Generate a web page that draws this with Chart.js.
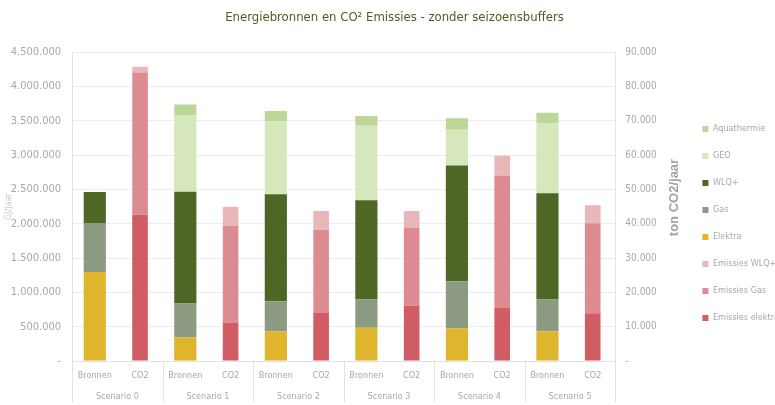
<!DOCTYPE html>
<html>
<head>
<meta charset="utf-8">
<script src="https://cdn.jsdelivr.net/npm/chart.js@4"></script>
<style>
  body { margin: 0; background: #fff; }
  #wrap { width: 775px; height: 405px; }
</style>
</head>
<body>
<div id="wrap"><canvas id="energyChart"></canvas></div>
<script>
const scenarios = ['Scenario 0', 'Scenario 1', 'Scenario 2', 'Scenario 3', 'Scenario 4', 'Scenario 5'];
const barLabels = ['Bronnen', 'CO2'];

// GJ/jaar per scenario
const elektra = [1295000, 341000, 428000, 486000, 477000, 428000];
const gas = [714000, 497000, 443000, 410000, 683000, 468000];
const wlq = [452000, 1628000, 1557000, 1445000, 1687000, 1546000];
const geo = [0, 1108000, 1059000, 1084000, 520000, 1021000];
const aqua = [0, 163000, 155000, 144000, 168000, 154000];

// ton CO2/jaar per scenario
const emElektra = [42600, 11200, 14000, 16100, 15600, 13900];
const emGas = [41400, 28200, 24200, 22800, 38400, 26200];
const emWlq = [1700, 5500, 5500, 4800, 5800, 5300];

const leftTicks = { max: 4500000, step: 500000 };
const rightTicks = { max: 90000, step: 10000 };

const FONT = "'DejaVu Sans Condensed', 'DejaVu Sans', sans-serif";
const GREY = '#a8a8a8';

function fmt(v) {
    if (v === 0) return '-';
    return String(v).replace(/\B(?=(\d{3})+(?!\d))/g, '.');
}

// spread scenario values over the Bronnen / CO2 slots
function slot(values, pos) {
    const out = [];
    values.forEach(v => {
        out.push(pos === 0 ? v : null);
        out.push(pos === 1 ? v : null);
    });
    return out;
}

const labels = [];
scenarios.forEach(() => labels.push(...barLabels));

function bron(label, values, color) {
    return { label, data: slot(values, 0), backgroundColor: color, yAxisID: 'y', barPercentage: 0.49 };
}
function co2(label, values, color) {
    return { label, data: slot(values, 1), backgroundColor: color, yAxisID: 'y1', barPercentage: 0.345 };
}

// right axis title, reading bottom-to-top
const rightTitle = {
    id: 'rightTitle',
    afterDraw(chart) {
        const s = chart.scales.y1;
        const ctx = chart.ctx;
        ctx.save();
        ctx.translate(s.right - 9.8, (s.top + s.bottom) / 2 - 9);
        ctx.rotate(-Math.PI / 2);
        ctx.font = "bold 13px 'Liberation Sans', Arial, sans-serif";
        ctx.fillStyle = '#a2a2a2';
        ctx.textAlign = 'center';
        ctx.textBaseline = 'middle';
        ctx.fillText('ton CO2/jaar', 0, 0);
        ctx.restore();
    }
};

// vertical separators between the scenario groups under the axis
const scenarioLines = {
    id: 'scenarioLines',
    afterDraw(chart) {
        const s = chart.scales.x2;
        const ctx = chart.ctx;
        const step = (s.right - s.left) / scenarios.length;
        ctx.save();
        ctx.strokeStyle = '#e2e2e2';
        ctx.lineWidth = 1;
        for (let i = 0; i <= scenarios.length; i++) {
            const x = Math.round(s.left + i * step) + 0.5;
            ctx.beginPath();
            ctx.moveTo(x, chart.chartArea.bottom);
            ctx.lineTo(x, s.bottom);
            ctx.stroke();
        }
        ctx.restore();
    }
};

new Chart(document.getElementById('energyChart'), {
    type: 'bar',
    data: {
        labels: labels,
        datasets: [
            co2('Emissies elektra', emElektra, '#cf5d63'),
            co2('Emissies Gas', emGas, '#dc8b90'),
            co2('Emissies WLQ+', emWlq, '#e9b6b9'),
            bron('Elektra', elektra, '#deb52c'),
            bron('Gas', gas, '#8c9a81'),
            bron('WLQ+', wlq, '#4f6725'),
            bron('GEO', geo, '#d6e7bb'),
            bron('Aquathermie', aqua, '#bdd798')
        ]
    },
    options: {
        responsive: true,
        maintainAspectRatio: false,
        animation: false,
        categoryPercentage: 1,
        layout: { padding: { left: 0, right: -14, top: 0, bottom: 3.2 } },
        plugins: {
            title: {
                display: true,
                text: 'Energiebronnen en CO² Emissies - zonder seizoensbuffers',
                color: '#4a5f22',
                font: { family: FONT, size: 13, weight: 'normal' },
                padding: { top: 10.2, bottom: 26.2 }
            },
            legend: {
                position: 'right',
                reverse: true,
                title: { display: true, text: ' ', font: { size: 1 }, padding: 22 },
                labels: {
                    boxWidth: 6,
                    boxHeight: 6,
                    padding: 18,
                    color: GREY,
                    font: { family: FONT, size: 9 }
                }
            },
            tooltip: { enabled: false }
        },
        scales: {
            x: {
                stacked: true,
                grid: { display: false, drawTicks: false },
                border: { display: true, color: '#e2e2e2' },
                ticks: {
                    color: GREY,
                    font: { family: FONT, size: 9 },
                    padding: 9.6,
                    maxRotation: 0,
                    autoSkip: false
                }
            },
            x2: {
                type: 'category',
                labels: scenarios,
                position: 'bottom',
                offset: true,
                grid: { display: false, drawTicks: false },
                border: { display: false },
                ticks: {
                    color: GREY,
                    font: { family: FONT, size: 9 },
                    padding: 0
                }
            },
            y: {
                stacked: true,
                position: 'left',
                min: 0,
                max: leftTicks.max,
                ticks: {
                    stepSize: leftTicks.step,
                    color: GREY,
                    font: { family: FONT, size: 11 },
                    padding: 11,
                    callback: v => fmt(v)
                },
                grid: { color: '#ececec', drawTicks: false },
                border: { display: true, color: '#e2e2e2' },
                title: {
                    display: true,
                    text: 'GJ/jaar',
                    color: '#cacaca',
                    font: { family: FONT, size: 9 },
                    padding: { top: 3, bottom: -14 }
                }
            },
            y1: {
                stacked: true,
                position: 'right',
                min: 0,
                max: rightTicks.max,
                ticks: {
                    stepSize: rightTicks.step,
                    color: GREY,
                    font: { family: FONT, size: 10 },
                    padding: 10,
                    callback: v => fmt(v)
                },
                grid: { drawOnChartArea: false, drawTicks: false },
                border: { display: true, color: '#e6e6e6' },
                title: {
                    display: true,
                    text: 'ton CO2/jaar',
                    color: 'rgba(0,0,0,0)',
                    font: { family: "'Liberation Sans', Arial, sans-serif", size: 13, weight: 'bold' },
                    padding: { top: 2, bottom: 0 }
                }
            }
        }
    },
    plugins: [rightTitle, scenarioLines]
});
</script>
</body>
</html>
